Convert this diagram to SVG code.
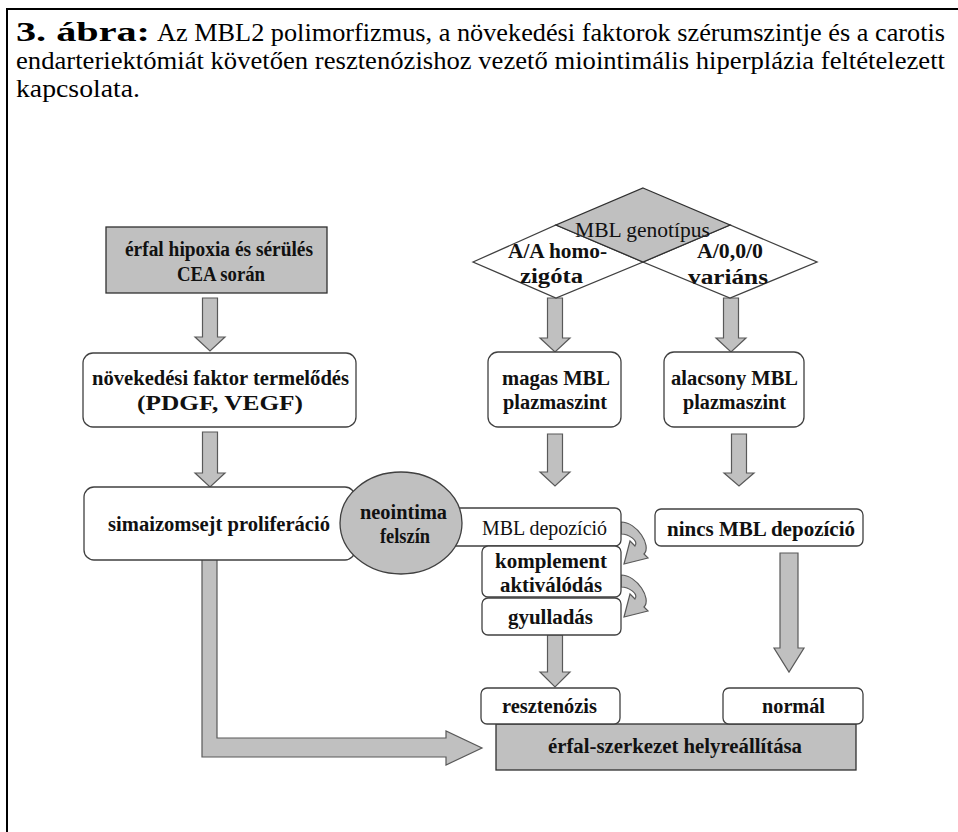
<svg xmlns="http://www.w3.org/2000/svg" width="958" height="832" viewBox="0 0 958 832">
<style>
.frame{fill:none;stroke:#000;stroke-width:2}
.box{fill:#fff;stroke:#404040;stroke-width:1.3}
.gbox{fill:#c0c0c0;stroke:#303030;stroke-width:1.3}
.arr{fill:#c0c0c0;stroke:#595959;stroke-width:1.2;stroke-linejoin:miter}
.t{font-family:"Liberation Serif","Times New Roman",serif;font-size:20.5px;font-weight:bold;fill:#111}
.r{font-family:"Liberation Serif","Times New Roman",serif;font-size:21.5px;fill:#111}
.tt{font-family:"Liberation Serif","Times New Roman",serif;font-size:24.5px;fill:#000}
.tb{font-family:"Liberation Serif","Times New Roman",serif;font-size:27px;font-weight:bold;fill:#000}
</style>
<rect width="958" height="832" fill="#fff"/>
<path class="frame" d="M7,832 V9 H958"/>
<g id="title">
<text class="tb" x="16" y="41" textLength="134" lengthAdjust="spacingAndGlyphs">3. ábra:</text>
<text class="tt" x="157" y="41" textLength="788" lengthAdjust="spacingAndGlyphs">Az MBL2 polimorfizmus, a növekedési faktorok szérumszintje és a carotis</text>
<text class="tt" x="16" y="69" textLength="929" lengthAdjust="spacingAndGlyphs">endarteriektómiát követően resztenózishoz vezető miointimális hiperplázia feltételezett</text>
<text class="tt" x="16" y="97" textLength="124" lengthAdjust="spacingAndGlyphs">kapcsolata.</text>
</g>
<g id="connectors">
<path class="arr" d="M202.5,298 H217.5 V337 H225 L210,351 L195,337 H202.5 Z"/>
<path class="arr" d="M202.5,432 H217.5 V473 H225 L210,487 L195,473 H202.5 Z"/>
<path class="arr" d="M547.5,298 H562.5 V338 H570 L555,352 L540,338 H547.5 Z"/>
<path class="arr" d="M723.5,298 H738.5 V338 H746 L731,352 L716,338 H723.5 Z"/>
<path class="arr" d="M547.5,434 H562.5 V472 H570 L555,486 L540,472 H547.5 Z"/>
<path class="arr" d="M731.5,434 H746.5 V473 H754 L739,486 L724,473 H731.5 Z"/>
<path class="arr" d="M547.5,635 H562.5 V672 H570 L555,687 L540,672 H547.5 Z"/>
<path class="arr" d="M780,553 H798 V648 H804 L789,672 L774,648 H780 Z"/>
<path class="arr" d="M202,560 V757 H446 V765 L482,748 L446,731 V738 H217 V560"/>
<path class="arr" d="M621,522 C637,522 652,546 644,554 L648,558 L624,564 L630,541 L635,546 C639,541 629,534 621,534 Z"/>
<path class="arr" d="M621,575 C637,575 652,599 644,607 L648,611 L624,617 L630,594 L635,599 C639,594 629,587 621,587 Z"/>
</g>
<g id="n-hipoxia">
<rect class="gbox" x="106" y="227" width="221" height="66"/>
<text class="t" x="125" y="256" textLength="188" lengthAdjust="spacingAndGlyphs">érfal hipoxia és sérülés</text>
<text class="t" x="177" y="281" textLength="88" lengthAdjust="spacingAndGlyphs">CEA során</text>
</g>
<g id="n-novekedesi">
<rect class="box" x="83" y="353" width="273" height="74" rx="10"/>
<text class="t" x="92" y="385" textLength="257" lengthAdjust="spacingAndGlyphs">növekedési faktor termelődés</text>
<text class="t" x="137" y="410" textLength="166" lengthAdjust="spacingAndGlyphs">(PDGF, VEGF)</text>
</g>
<g id="n-simaizom">
<rect class="box" x="84" y="487" width="271" height="73" rx="10"/>
<text class="t" x="108" y="531" textLength="222" lengthAdjust="spacingAndGlyphs">simaizomsejt proliferáció</text>
</g>
<g id="n-mbl-depozicio">
<rect class="box" x="445" y="508" width="176" height="38" rx="6"/>
<text class="r" x="482" y="535" textLength="125" lengthAdjust="spacingAndGlyphs">MBL depozíció</text>
</g>
<g id="n-neointima">
<ellipse cx="401" cy="523" rx="61" ry="51" fill="#c0c0c0" stroke="#404040" stroke-width="1.3"/>
<text class="t" x="360" y="519" textLength="87" lengthAdjust="spacingAndGlyphs">neointima</text>
<text class="t" x="380" y="543" textLength="50" lengthAdjust="spacingAndGlyphs">felszín</text>
</g>
<g id="n-homozigota">
<polygon class="box" points="473,262 556,225 643,262 556,298"/>
<text class="t" x="508" y="258" textLength="99" lengthAdjust="spacingAndGlyphs">A/A homo-</text>
<text class="t" x="520" y="283" textLength="63" lengthAdjust="spacingAndGlyphs">zigóta</text>
</g>
<g id="n-varians">
<polygon class="box" points="643,262 730,225 817,262 730,298"/>
<text class="t" x="697" y="258" textLength="66" lengthAdjust="spacingAndGlyphs">A/0,0/0</text>
<text class="t" x="688" y="284" textLength="80" lengthAdjust="spacingAndGlyphs">variáns</text>
</g>
<g id="n-genotipus">
<polygon class="gbox" points="643,188 730,225 643,262 556,225"/>
<text class="r" x="575" y="237" textLength="135" lengthAdjust="spacingAndGlyphs">MBL genotípus</text>
</g>
<g id="n-magas">
<rect class="box" x="488" y="352" width="133" height="75" rx="10"/>
<text class="t" x="502" y="385" textLength="108" lengthAdjust="spacingAndGlyphs">magas MBL</text>
<text class="t" x="503" y="409" textLength="104" lengthAdjust="spacingAndGlyphs">plazmaszint</text>
</g>
<g id="n-alacsony">
<rect class="box" x="664" y="352" width="140" height="75" rx="10"/>
<text class="t" x="671" y="385" textLength="127" lengthAdjust="spacingAndGlyphs">alacsony MBL</text>
<text class="t" x="683" y="409" textLength="103" lengthAdjust="spacingAndGlyphs">plazmaszint</text>
</g>
<g id="n-komplement">
<rect class="box" x="482" y="546" width="139" height="51" rx="6"/>
<text class="t" x="495" y="568" textLength="112" lengthAdjust="spacingAndGlyphs">komplement</text>
<text class="t" x="500" y="592" textLength="102" lengthAdjust="spacingAndGlyphs">aktiválódás</text>
</g>
<g id="n-gyulladas">
<rect class="box" x="482" y="598" width="139" height="37" rx="6"/>
<text class="t" x="508" y="624" textLength="85" lengthAdjust="spacingAndGlyphs">gyulladás</text>
</g>
<g id="n-nincs">
<rect class="box" x="655" y="509" width="208" height="37" rx="6"/>
<text class="t" x="667" y="536" textLength="188" lengthAdjust="spacingAndGlyphs">nincs MBL depozíció</text>
</g>
<g id="n-helyreallitas">
<rect class="gbox" x="496" y="724" width="360" height="46"/>
<text class="t" x="548" y="753" textLength="254" lengthAdjust="spacingAndGlyphs">érfal-szerkezet helyreállítása</text>
</g>
<g id="n-resztenozis">
<rect class="box" x="481" y="688" width="139" height="36" rx="6"/>
<text class="t" x="502" y="713" textLength="95" lengthAdjust="spacingAndGlyphs">resztenózis</text>
</g>
<g id="n-normal">
<rect class="box" x="723" y="688" width="140" height="36" rx="6"/>
<text class="t" x="762" y="713" textLength="63" lengthAdjust="spacingAndGlyphs">normál</text>
</g>
</svg>
